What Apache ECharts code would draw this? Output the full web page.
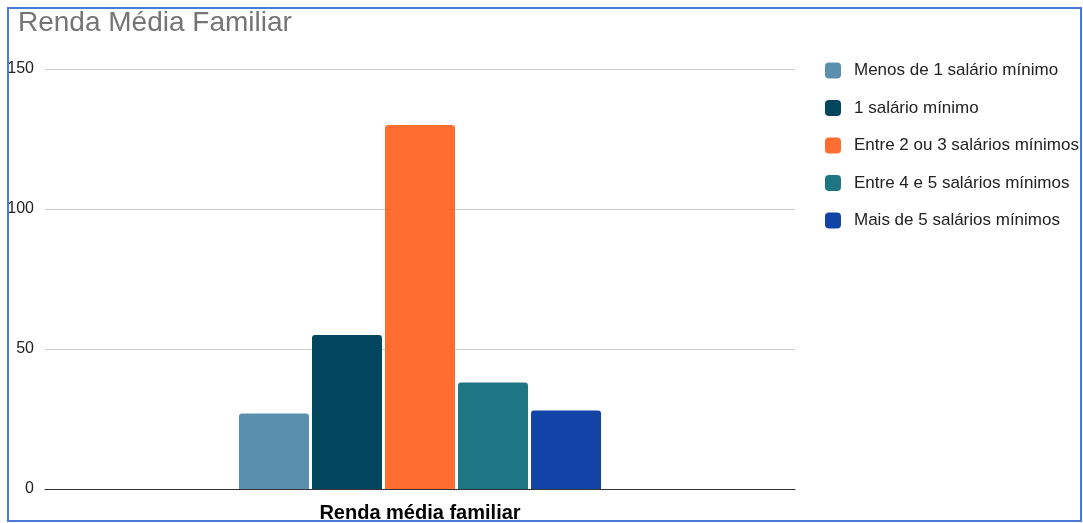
<!DOCTYPE html>
<html>
<head>
<meta charset="utf-8">
<script src="https://cdn.jsdelivr.net/npm/echarts@6/dist/echarts.min.js"></script>
<style>
  html, body { margin: 0; padding: 0; background: #fff; }
  #chart { position: absolute; left: 0; top: 0; width: 1083px; height: 523px; }
  #frame { position: absolute; left: 7px; top: 7px; width: 1071px; height: 511px;
           border: 2px solid #4a7bd8; box-shadow: 0 0 0 30px #fff; pointer-events: none; }
</style>
</head>
<body>
<div id="chart"></div>
<div id="frame"></div>
<script>
const titleText = 'Renda Média Familiar';
const categories = ['Renda média familiar'];
const seriesNames = [
  'Menos de 1 salário mínimo',
  '1 salário mínimo',
  'Entre 2 ou 3 salários mínimos',
  'Entre 4 e 5 salários mínimos',
  'Mais de 5 salários mínimos'
];
const seriesValues = [27, 55, 130, 38, 28];
const seriesColors = ['#5a8fae', '#02475f', '#ff6d31', '#1e7684', '#1244a8'];

const font = '"Liberation Sans", Arial, sans-serif';
const chart = echarts.init(document.getElementById('chart'));
chart.setOption({
  animation: false,
  textStyle: { fontFamily: font },
  title: {
    text: titleText,
    left: 13, top: 4,
    textStyle: { fontSize: 28, fontWeight: 'normal', color: '#757575', fontFamily: font }
  },
  legend: {
    orient: 'vertical',
    left: 820, top: 57,
    itemWidth: 16, itemHeight: 16, itemGap: 20.5,
    icon: 'roundRect',
    data: seriesNames,
    textStyle: { fontSize: 17, color: '#222', padding: [0, 0, 0, 8], fontFamily: font }
  },
  grid: { left: 45, right: 288, top: 69, bottom: 33, containLabel: false },
  xAxis: {
    type: 'category',
    data: categories,
    axisLine: { lineStyle: { color: '#333', width: 1 } },
    axisTick: { show: false },
    axisLabel: { fontSize: 20, fontWeight: 'bold', color: '#000', margin: 14, fontFamily: font }
  },
  yAxis: {
    type: 'value',
    min: 0, max: 150, interval: 50,
    axisLine: { show: false },
    axisTick: { show: false },
    axisLabel: { fontSize: 16, color: '#222', margin: 11, fontFamily: font },
    splitLine: { lineStyle: { color: '#cccccc', width: 1 } }
  },
  series: seriesNames.map((name, i) => ({
    name: name,
    type: 'bar',
    barWidth: 70,
    barGap: '4.3%',
    itemStyle: { color: seriesColors[i], borderRadius: [3, 3, 0, 0] },
    data: [seriesValues[i]]
  }))
});
</script>
</body>
</html>
